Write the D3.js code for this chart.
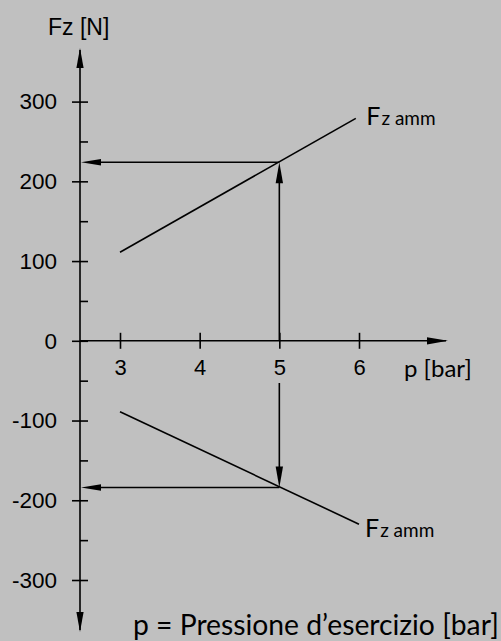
<!DOCTYPE html>
<html>
<head>
<meta charset="utf-8">
<script src="https://cdn.jsdelivr.net/npm/d3@7"></script>
<style>
  html, body { margin: 0; padding: 0; background: #c0c0c0; }
  svg { display: block; }
</style>
</head>
<body>
<svg id="chart" width="501" height="641"></svg>
<script>
// ---- data ----
const yMajorTicks = [-300, -200, -100, 0, 100, 200, 300];
const yMinorTicks = [-250, -150, -50, 50, 150, 250];
const xTicks = [3, 4, 5, 6];
const upperP = [3, 5.96];
const upperF = [111, 279];
const lowerP = [3, 6];
const lowerF = [-89, -230];
const readP = 5;
const readUpperF = 224;
const readLowerF = -184;
const yTitle = "Fz [N]";
const xTitle = "p [bar]";
const lineLabelMain = "F";
const lineLabelSub = "z amm";
const caption = "p = Pressione d\u2019esercizio [bar]";

// ---- layout ----
const svg = d3.select("#chart");
svg.append("rect").attr("width", 501).attr("height", 641).attr("fill", "#c0c0c0");

const x = d3.scaleLinear().domain([3, 6]).range([120, 359]);
const y = d3.scaleLinear().domain([300, -300]).range([101.6, 580]);
const axisX = 80;          // pixel x of vertical axis
const axisY = y(0);        // pixel y of horizontal axis
const SW = 1.6;
const numFont = "'Liberation Sans', Arial, Helvetica, sans-serif";
const txtFont = "Lato, 'Open Sans', sans-serif";

function arrowHead(tipX, tipY, dir, len, half) {
  // dir: 'up','down','left','right'
  let pts;
  if (dir === "up") pts = [[tipX, tipY], [tipX - half, tipY + len], [tipX + half, tipY + len]];
  if (dir === "down") pts = [[tipX, tipY], [tipX - half, tipY - len], [tipX + half, tipY - len]];
  if (dir === "left") pts = [[tipX, tipY], [tipX + len, tipY - half], [tipX + len, tipY + half]];
  if (dir === "right") pts = [[tipX, tipY], [tipX - len, tipY - half], [tipX - len, tipY + half]];
  svg.append("path").attr("d", "M" + pts.map(p => p.join(",")).join("L") + "Z").attr("fill", "#000");
}

// vertical axis line with arrows both ends
svg.append("line").attr("x1", axisX).attr("x2", axisX).attr("y1", 50).attr("y2", 630)
  .attr("stroke", "#000").attr("stroke-width", SW);
arrowHead(axisX, 48, "up", 20, 3.6);
arrowHead(axisX, 632, "down", 20, 3.6);

// horizontal axis line with arrow
svg.append("line").attr("x1", axisX).attr("x2", 446).attr("y1", axisY).attr("y2", axisY)
  .attr("stroke", "#000").attr("stroke-width", SW);
arrowHead(448, axisY, "right", 21, 3.6);

// y axis: left half major ticks + labels
const yAxisL = svg.append("g").attr("transform", `translate(${axisX},0)`)
  .call(d3.axisLeft(y).tickValues(yMajorTicks).tickSize(8).tickPadding(15).tickFormat(d3.format("d")));
// y axis: right half for all ticks
const yAxisR = svg.append("g").attr("transform", `translate(${axisX},0)`)
  .call(d3.axisRight(y).tickValues(yMajorTicks.concat(yMinorTicks)).tickSize(8).tickFormat(""));
[yAxisL, yAxisR].forEach(g => {
  g.select(".domain").remove();
  g.selectAll(".tick line").attr("stroke", "#000").attr("stroke-width", SW);
});
yAxisL.selectAll(".tick text").attr("font-family", numFont).attr("font-size", 22.5).attr("fill", "#000")
  .text(d => d < 0 ? "-" + Math.abs(d) : d);

// x axis ticks
const xAxisB = svg.append("g").attr("transform", `translate(0,${axisY})`)
  .call(d3.axisBottom(x).tickValues(xTicks).tickSize(8).tickPadding(11).tickFormat(d3.format("d")));
const xAxisT = svg.append("g").attr("transform", `translate(0,${axisY})`)
  .call(d3.axisTop(x).tickValues(xTicks).tickSize(8).tickFormat(""));
[xAxisB, xAxisT].forEach(g => {
  g.select(".domain").remove();
  g.selectAll(".tick line").attr("stroke", "#000").attr("stroke-width", SW);
});
xAxisB.selectAll(".tick text").attr("font-family", numFont).attr("font-size", 22).attr("fill", "#000");

// titles
svg.append("text").attr("x", 48).attr("y", 35).attr("font-family", numFont).attr("font-size", 23)
  .attr("fill", "#000").text(yTitle);
svg.append("text").attr("x", 404).attr("y", 377).attr("font-family", txtFont).attr("font-size", 24)
  .attr("fill", "#000").text(xTitle);

// data lines
const line = d3.line().x(d => x(d[0])).y(d => y(d[1]));
const upper = d3.zip(upperP, upperF);
const lower = d3.zip(lowerP, lowerF);
[upper, lower].forEach(data => {
  svg.append("path").datum(data).attr("d", line).attr("fill", "none")
    .attr("stroke", "#000").attr("stroke-width", SW);
});

// reading arrows (upper)
const rx = x(readP);
svg.append("line").attr("x1", rx).attr("x2", rx).attr("y1", axisY).attr("y2", y(readUpperF) + 18)
  .attr("stroke", "#000").attr("stroke-width", SW);
arrowHead(rx, y(readUpperF), "up", 21, 3.7);
svg.append("line").attr("x1", rx).attr("x2", axisX + 18).attr("y1", y(readUpperF)).attr("y2", y(readUpperF))
  .attr("stroke", "#000").attr("stroke-width", SW);
arrowHead(axisX + 1, y(readUpperF), "left", 20, 3.3);

// reading arrows (lower)
svg.append("line").attr("x1", rx).attr("x2", rx).attr("y1", 383).attr("y2", y(readLowerF) - 18)
  .attr("stroke", "#000").attr("stroke-width", SW);
arrowHead(rx, y(readLowerF), "down", 21, 3.7);
svg.append("line").attr("x1", rx).attr("x2", axisX + 18).attr("y1", y(readLowerF)).attr("y2", y(readLowerF))
  .attr("stroke", "#000").attr("stroke-width", SW);
arrowHead(axisX + 1, y(readLowerF), "left", 20, 3.3);

// line labels
function lineLabel(px, py) {
  const t = svg.append("text").attr("x", px).attr("y", py).attr("font-family", txtFont).attr("fill", "#000");
  t.append("tspan").attr("font-size", 25).text(lineLabelMain);
  t.append("tspan").attr("font-size", 19).attr("dx", 1).text(lineLabelSub);
}
const ue = upper[upper.length - 1];
const le = lower[lower.length - 1];
lineLabel(x(ue[0]) + 10.5, y(ue[1]) + 6.5);
lineLabel(x(le[0]) + 6, y(le[1]) + 13);

// caption, fitted to width
const cap = svg.append("text").attr("x", 133).attr("y", 635).attr("font-family", txtFont)
  .attr("font-size", 24).attr("fill", "#000").text(caption);
const w = cap.node().getComputedTextLength();
cap.attr("font-size", 24 * 366 / w);
</script>
</body>
</html>
